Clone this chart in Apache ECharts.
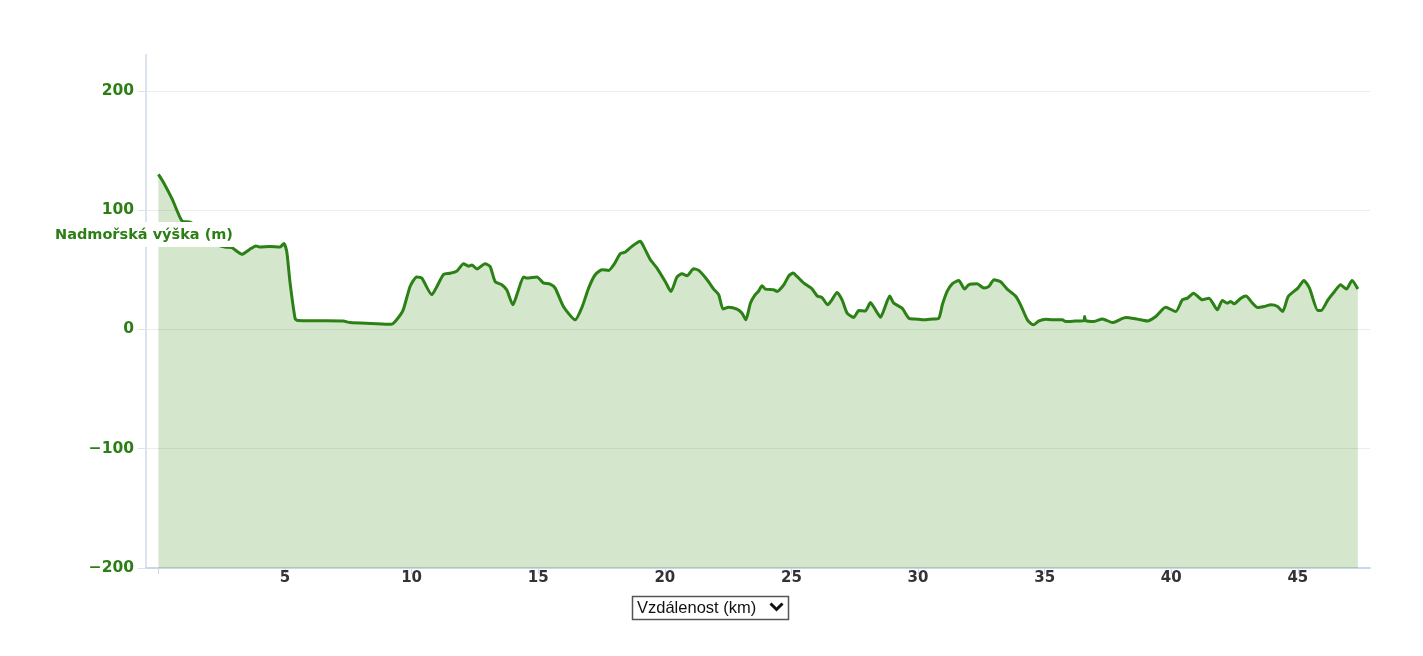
<!DOCTYPE html>
<html>
<head>
<meta charset="utf-8">
<title>Výškový profil</title>
<script src="https://cdn.jsdelivr.net/npm/echarts@6/dist/echarts.min.js"></script>
<style>
html, body {margin: 0; padding: 0; background: #fff;}
#profile {width: 1423px; height: 656px;}
</style>
</head>
<body>
<div id="profile"></div>
<script>
/* Distance along the route (km) and elevation (m). */
var distKm = [
    0, 0.18, 0.55, 0.93, 1.25, 1.6, 2.0, 2.35, 2.63, 2.9,
    3.3, 3.6, 3.85, 4.0, 4.4, 4.8, 4.96, 5.07, 5.2, 5.4,
    5.5, 6.4, 7.3, 7.57, 8.4, 9.2, 9.35, 9.66, 9.94, 10.2,
    10.4, 10.8, 11.0, 11.26, 11.52, 11.79, 12.05, 12.25, 12.38, 12.58,
    12.9, 13.1, 13.3, 13.56, 13.76, 14.0, 14.2, 14.42, 14.55, 14.95,
    15.2, 15.47, 15.67, 16.0, 16.46, 16.73, 16.99, 17.25, 17.52, 17.78,
    17.98, 18.24, 18.44, 18.7, 19.03, 19.16, 19.43, 19.69, 20.02, 20.24,
    20.48, 20.68, 20.88, 21.14, 21.34, 21.67, 21.93, 22.13, 22.3, 22.52,
    22.85, 23.05, 23.2, 23.38, 23.55, 23.7, 23.84, 23.97, 24.3, 24.43,
    24.7, 24.9, 25.07, 25.22, 25.49, 25.82, 26.02, 26.21, 26.43, 26.6,
    26.8, 27.0, 27.2, 27.46, 27.66, 27.92, 28.12, 28.32, 28.52, 28.68,
    28.88, 29.04, 29.37, 29.64, 29.97, 30.23, 30.5, 30.82, 30.96, 31.15,
    31.35, 31.61, 31.84, 32.0, 32.34, 32.6, 32.8, 33.0, 33.26, 33.52,
    33.85, 34.05, 34.32, 34.55, 34.78, 35.04, 35.3, 35.7, 35.83, 36.2,
    36.55, 36.58, 36.62, 36.95, 37.28, 37.68, 38.2, 38.66, 39.06, 39.39,
    39.78, 40.18, 40.44, 40.64, 40.88, 41.23, 41.49, 41.82, 42.02, 42.22,
    42.35, 42.48, 42.75, 42.95, 43.21, 43.41, 43.67, 43.94, 44.2, 44.4,
    44.62, 45.0, 45.24, 45.46, 45.79, 45.92, 46.19, 46.45, 46.69, 46.92,
    47.14, 47.37
];
var elevM = [
    130, 124, 109, 91, 90, 85, 77, 71, 69, 68.5,
    63, 67, 70, 69, 69.5, 69, 72, 65, 39, 9,
    7.4, 7.2, 7, 5.7, 5, 4.3, 6.6, 16, 36, 44,
    43, 29, 36, 46, 47, 49, 55, 53, 54, 50.6,
    55, 52.8, 40, 37.4, 33, 20.6, 31.8, 44, 43, 44,
    39, 38, 34.6, 19, 8, 18.6, 34.6, 45.8, 50, 49.4,
    54, 63.4, 64.8, 69.6, 73.8, 69.6, 58.4, 51.4, 40, 31.8,
    43.9, 46.6, 45, 50.8, 49.4, 41.6, 33.8, 29, 17, 18.6,
    17, 13.6, 8, 22, 28.5, 32, 36.5, 33.8, 33.2, 31.8,
    37.4, 45, 47.2, 44.4, 38.8, 33.8, 28, 26.7, 20.6, 24.8,
    31, 24.8, 13.6, 10, 15.8, 15.5, 22.5, 16.4, 10.2, 17.8,
    28, 22, 17.8, 9.4, 8.6, 8, 8.6, 9.4, 20.6, 31.8,
    38.2, 41, 33.8, 37.4, 38.2, 34.6, 36, 41.6, 40, 33.8,
    28, 20.6, 8, 3.8, 7.1, 8.6, 8, 8, 6.6, 7,
    7.4, 10.8, 7.4, 6.6, 8.8, 5.7, 10, 8.6, 7.1, 10.8,
    18.6, 15, 24.8, 26.2, 30.4, 24.8, 26.2, 16.4, 24.2, 22,
    23.4, 21.4, 26.2, 28, 22, 18.3, 19.2, 20.6, 19.2, 15,
    27.6, 34.6, 41, 34.6, 15.8, 15.8, 24.8, 31.8, 37.4, 33.8,
    41, 33.8
];
var yTicks = [-200, -100, 0, 100, 200];

var yTitle = 'Nadmořská výška (m)';
var xTitle = 'Vzdálenost (km)';

/**
 * Draw the elevation profile.
 *
 * @param  string $id
 * @access public
 * @return object
 */
function drawProfileChart(id)
{
    var green     = '#2b7f14';
    var lineColor = '#2b8016';
    var axisColor = '#ccd6eb';
    var gridColor = '#ececec';
    var labelFont = '"DejaVu Sans", Verdana, sans-serif';

    var points = [];
    for(var i = 0; i < distKm.length; i++) points.push([distKm[i], elevM[i]]);

    var chart  = echarts.init(document.getElementById(id), null, {renderer: 'canvas'});
    var option = {
        animation: false,
        grid: {left: 146, right: 53, top: 55, bottom: 88},
        xAxis: {
            type: 'value',
            min: -0.49,
            max: 47.85,
            splitNumber: 10,
            axisLine: {show: true, onZero: false, lineStyle: {color: axisColor, width: 2}},
            axisTick: {show: true, length: 6, lineStyle: {color: axisColor, width: 1}},
            splitLine: {show: false},
            axisLabel: {
                margin: 3,
                showMinLabel: false,
                showMaxLabel: false,
                color: '#333',
                fontFamily: labelFont,
                fontWeight: 'bold',
                fontSize: 15,
                formatter: function(v) { return v > 0 && v % 5 === 0 ? String(v) : ''; }
            }
        },
        yAxis: {
            type: 'value',
            min: yTicks[0],
            max: 230,
            interval: 100,
            axisLine: {show: true, onZero: false, lineStyle: {color: '#dde3ec', width: 2}},
            axisTick: {show: true, length: 8, lineStyle: {color: '#dde3ec'}},
            splitLine: {show: true, showMinLine: false, showMaxLine: false, lineStyle: {color: gridColor, width: 1}},
            axisLabel: {
                margin: 12,
                showMaxLabel: false,
                color: green,
                fontFamily: labelFont,
                fontWeight: 'bold',
                fontSize: 15.5,
                formatter: function(v) { return yTicks.indexOf(v) >= 0 ? String(v).replace('-', '\u2212') : ''; }
            }
        },
        series: [
            {
                type: 'line',
                data: points,
                showSymbol: false,
                smooth: 0.2,
                lineStyle: {color: lineColor, width: 3},
                areaStyle: {color: 'rgba(60,140,20,0.22)', opacity: 1, origin: 'start'},
                z: 3
            }
        ],
        graphic: [
            /* Y axis title box sits over the plot. */
            {type: 'rect', z: 100, shape: {x: 50, y: 222, width: 183, height: 25}, style: {fill: '#fff'}},
            {type: 'text', z: 101, x: 55, y: 235, style: {
                text: yTitle, fill: green, font: 'bold 14.5px ' + labelFont, textVerticalAlign: 'middle'
            }},
            /* Distance unit selector. */
            {type: 'rect', z: 100, shape: {x: 632.5, y: 596.5, width: 156, height: 23}, style: {fill: '#fff', stroke: '#555', lineWidth: 1.5}},
            {type: 'text', z: 101, x: 637, y: 608, style: {
                text: xTitle, fill: '#111', font: '16.5px "Liberation Sans", Arial, sans-serif', textVerticalAlign: 'middle'
            }},
            {type: 'polyline', z: 101, shape: {points: [[770.5, 603.5], [776.5, 609.5], [782.5, 603.5]]}, style: {stroke: '#111', lineWidth: 3, fill: null}}
        ]
    };
    chart.setOption(option);

    return chart;
}

drawProfileChart('profile');
</script>
</body>
</html>
